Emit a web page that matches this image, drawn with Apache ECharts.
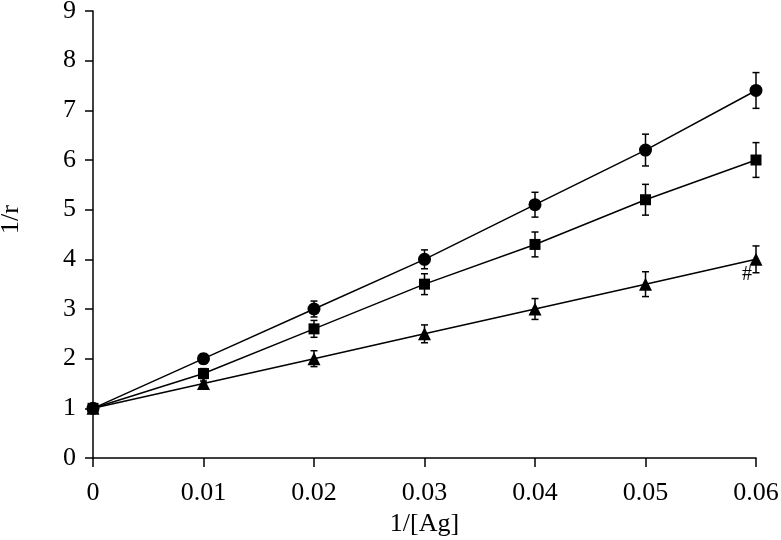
<!DOCTYPE html>
<html>
<head>
<meta charset="utf-8">
<script src="https://cdn.jsdelivr.net/npm/echarts@6/dist/echarts.min.js"></script>
<style>
  html, body { margin: 0; padding: 0; background: #fff; }
  #chart { width: 781px; height: 540px; }
</style>
</head>
<body>
<div id="chart"></div>
<script>
// 1/[Ag] values and the three 1/r series (with error half-widths)
const xValues = [0, 0.01, 0.02, 0.03, 0.04, 0.05, 0.06];
const circleY = [1, 2.0, 3.0, 4.0, 5.1, 6.2, 7.4];
const circleErr = [0, 0.1, 0.16, 0.19, 0.25, 0.32, 0.36];
const squareY = [1, 1.7, 2.6, 3.5, 4.3, 5.2, 6.0];
const squareErr = [0, 0.1, 0.17, 0.21, 0.25, 0.31, 0.35];
const triangleY = [1, 1.5, 2.0, 2.5, 3.0, 3.5, 4.0];
const triangleErr = [0, 0.05, 0.16, 0.18, 0.21, 0.25, 0.27];

const serif = "Liberation Serif";

function pairs(ys) {
  return xValues.map((x, i) => [x, ys[i]]);
}

function errData(ys, errs) {
  return xValues.map((x, i) => [x, ys[i] - errs[i], ys[i] + errs[i]]);
}

function errorBars(ys, errs) {
  return {
    type: "custom",
    data: errData(ys, errs),
    z: 1,
    silent: true,
    renderItem(params, api) {
      const x = api.value(0);
      const lo = api.coord([x, api.value(1)]);
      const hi = api.coord([x, api.value(2)]);
      const cap = 3.5;
      const style = { stroke: "#000", lineWidth: 1.5 };
      return {
        type: "group",
        children: [
          { type: "line", shape: { x1: lo[0], y1: lo[1], x2: hi[0], y2: hi[1] }, style },
          { type: "line", shape: { x1: lo[0] - cap, y1: lo[1], x2: lo[0] + cap, y2: lo[1] }, style },
          { type: "line", shape: { x1: hi[0] - cap, y1: hi[1], x2: hi[0] + cap, y2: hi[1] }, style },
        ],
      };
    },
  };
}

function lineSeries(ys, symbol, size) {
  return {
    type: "line",
    data: pairs(ys),
    symbol: symbol,
    symbolSize: size,
    showAllSymbol: true,
    z: 3,
    lineStyle: { color: "#000", width: 1.5 },
    itemStyle: { color: "#000" },
  };
}

const chart = echarts.init(document.getElementById("chart"));

const triangleLine = lineSeries(triangleY, "triangle", 13);
triangleLine.data = triangleLine.data.map((d, i) =>
  i === xValues.length - 1
    ? {
        value: d,
        label: {
          show: true,
          formatter: "#",
          position: "bottom",
          offset: [-9, -6],
          fontFamily: serif,
          fontSize: 20,
          color: "#000",
        },
      }
    : d
);

chart.setOption({
  animation: false,
  grid: { left: 93, right: 25, top: 11, bottom: 82, outerBoundsMode: "none" },
  xAxis: {
    type: "value",
    min: 0,
    max: 0.06,
    interval: 0.01,
    name: "1/[Ag]",
    nameLocation: "middle",
    nameGap: 52,
    nameTextStyle: { fontFamily: serif, fontSize: 26, color: "#000" },
    axisLine: { onZero: false, lineStyle: { color: "#000", width: 1.5 } },
    axisTick: { length: 9, lineStyle: { color: "#000", width: 1.5 } },
    axisLabel: {
      margin: 22,
      fontFamily: serif,
      fontSize: 26,
      color: "#000",
      formatter: (v) => String(+v.toFixed(2)),
    },
    splitLine: { show: false },
  },
  yAxis: {
    type: "value",
    min: 0,
    max: 9,
    interval: 1,
    name: "1/r",
    nameLocation: "middle",
    nameGap: 69,
    nameTextStyle: {
      fontFamily: serif,
      fontSize: 26,
      color: "#000",
      padding: [0, 0, 0, 30],
    },
    axisLine: { show: true, lineStyle: { color: "#000", width: 1.5 } },
    axisTick: { show: true, length: 8, lineStyle: { color: "#000", width: 1.5 } },
    axisLabel: {
      margin: 17,
      fontFamily: serif,
      fontSize: 26,
      color: "#000",
    },
    splitLine: { show: false },
  },
  series: [
    errorBars(circleY, circleErr),
    errorBars(squareY, squareErr),
    errorBars(triangleY, triangleErr),
    lineSeries(circleY, "circle", 13),
    triangleLine,
    lineSeries(squareY, "rect", 11),
  ],
});
</script>
</body>
</html>
